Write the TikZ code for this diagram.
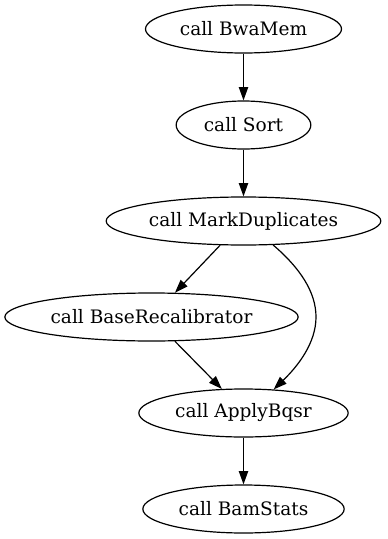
\documentclass[tikz,border=0pt]{standalone}
\usepackage{fontspec}
\setmainfont{DejaVu Serif}
\usetikzlibrary{shapes.geometric,arrows.meta}
\begin{document}
\begin{tikzpicture}[x=0.75pt,y=-0.75pt,
  task/.style={ellipse, draw, line width=0.9pt, inner sep=0pt, minimum height=36pt,
    font=\fontsize{13.9pt}{16pt}\selectfont},
  edge/.style={draw, line width=0.9pt, -{Triangle[length=10pt,width=7pt]}}]
  \useasboundingbox (0,0) rectangle (387,539);
  % workflow calls
  \node[task, minimum width=147pt] (bwa)  at (243.5,29)  {call BwaMem};
  \node[task, minimum width=101pt] (sort) at (243.5,125) {call Sort};
  \node[task, minimum width=206pt] (md)   at (243.5,221) {call MarkDuplicates};
  \node[task, minimum width=220pt] (br)   at (151.5,317) {call BaseRecalibrator};
  \node[task, minimum width=157pt] (ab)   at (243.5,413) {call ApplyBqsr};
  \node[task, minimum width=151pt] (bs)   at (243.5,509) {call BamStats};
  % dependencies
  \draw[edge] (bwa) -- (sort);
  \draw[edge] (sort) -- (md);
  \draw[edge] (md.226) -- (br.46);
  \draw[edge] (br.-46) -- (ab.132);
  \draw[edge] (md.-39) .. controls (300,268) and (316,292) .. (316,317)
                       .. controls (316,343) and (298,366) .. (ab.38);
  \draw[edge] (ab) -- (bs);
\end{tikzpicture}
\end{document}
